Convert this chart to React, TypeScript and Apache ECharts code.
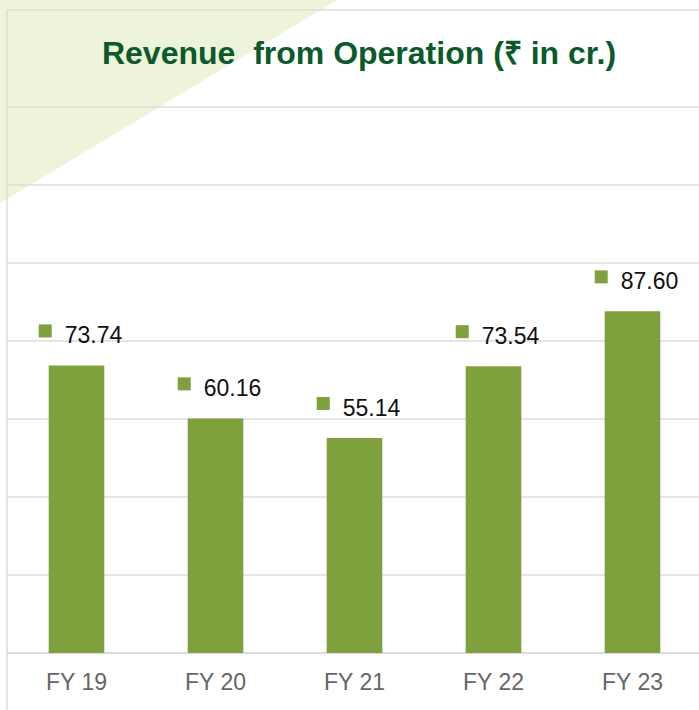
import React, { useEffect, useRef } from "react";
import * as echarts from "echarts";

const categories = ["FY 19", "FY 20", "FY 21", "FY 22", "FY 23"];
const revenue = [73.74, 60.16, 55.14, 73.54, 87.6];
const valueLabels = ["73.74", "60.16", "55.14", "73.54", "87.60"];
const titleText = "Revenue  from Operation (₹ in cr.)";

const FONT = "'Liberation Sans', Arial, sans-serif";
const BAR = "#7fa13d";

export default function App() {
  const ref = useRef<HTMLDivElement>(null);
  useEffect(() => {
    if (!ref.current) return;
    const chart = echarts.init(ref.current, undefined, { renderer: "svg" });
    chart.setOption({
      animation: false,
      backgroundColor: "#ffffff",
      title: {
        text: titleText,
        left: 354,
        textAlign: "center",
        top: 32,
        textStyle: { fontFamily: FONT, fontSize: 32, fontWeight: "bold", color: "#0b5a2c" },
      },
      graphic: [
        {
          type: "polygon",
          z: -10,
          silent: true,
          shape: { points: [[0, 0], [337, 0], [0, 203]] },
          style: { fill: "#edf4da" },
        },
        {
          type: "line",
          z: -5,
          silent: true,
          shape: { x1: 7, y1: 10, x2: 705, y2: 10 },
          style: { stroke: "#dcdcdc", lineWidth: 1.5 },
        },
        {
          type: "line",
          z: -5,
          silent: true,
          shape: { x1: 7, y1: 10, x2: 7, y2: 710 },
          style: { stroke: "#dcdcdc", lineWidth: 1.5 },
        },
      ],
      grid: { left: 7, right: 3, top: 107, bottom: 57 },
      xAxis: {
        type: "category",
        data: categories,
        axisLine: { show: true, lineStyle: { color: "#d9d9d9", width: 1.5 } },
        axisTick: { show: false },
        axisLabel: { fontFamily: FONT, fontSize: 23, color: "#666666", margin: 17 },
      },
      yAxis: {
        type: "value",
        min: 0,
        max: 140,
        interval: 20,
        axisLabel: { show: false },
        axisLine: { show: false },
        axisTick: { show: false },
        splitLine: { show: true, lineStyle: { color: "#dcdcdc", width: 1.5 } },
      },
      series: [
        {
          type: "bar",
          data: revenue,
          barWidth: "40%",
          itemStyle: { color: BAR },
          label: {
            show: true,
            position: "top",
            distance: 19,
            offset: [4, 0],
            formatter: (p: any) => `{m|}{v|${valueLabels[p.dataIndex]}}`,
            rich: {
              m: { width: 13, height: 13, backgroundColor: BAR, verticalAlign: "top" },
              v: { fontFamily: FONT, fontSize: 23, color: "#111111", padding: [0, 0, 0, 13], lineHeight: 22 },
            },
          },
        },
      ],
    });
    return () => chart.dispose();
  }, []);
  return (
    <div style={{ position: "fixed", left: 0, top: 0, width: 699, height: 710, overflow: "hidden", background: "#fff" }}>
      <div ref={ref} style={{ width: 705, height: 710 }} />
    </div>
  );
}
